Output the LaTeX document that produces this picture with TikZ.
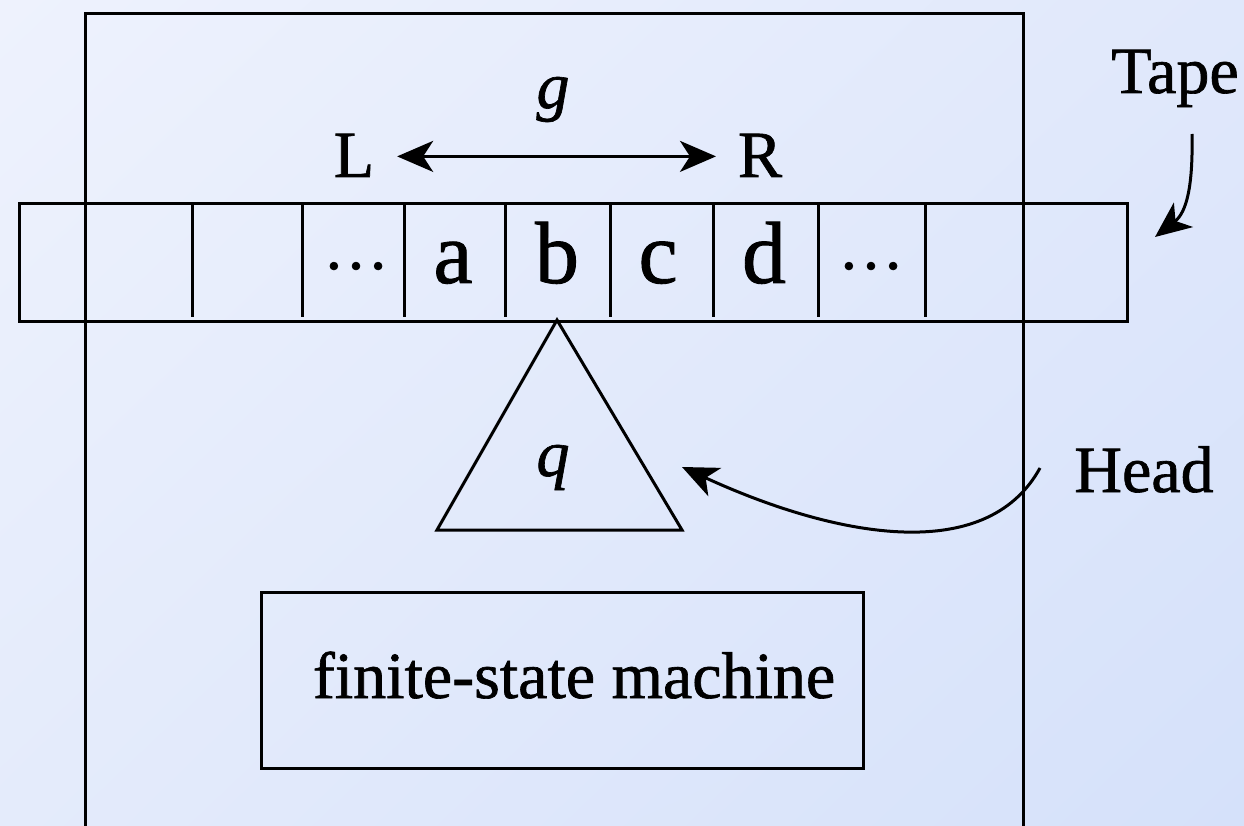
\documentclass[tikz,border=0pt]{standalone}
\usepackage{fontspec}
\setmainfont{Liberation Serif}
\newfontfamily\tms{Liberation Serif}[FakeBold=1]
\usetikzlibrary{arrows.meta,shadings}
\definecolor{bgTL}{HTML}{EEF2FD}
\definecolor{bgTR}{HTML}{E0E8FB}
\definecolor{bgBL}{HTML}{E4EBFB}
\definecolor{bgBR}{HTML}{D5E1FA}
\tikzset{
  ln/.style={line width=3pt, line join=miter},
  arr/.style={line width=3pt, -{Stealth[length=36pt,width=31pt,inset=10pt]}},
  arr2/.style={line width=2.8pt, {Stealth[length=36pt,width=31pt,inset=10pt]}-{Stealth[length=36pt,width=31pt,inset=10pt]}},
  lab/.style={inner sep=0pt, outer sep=0pt, anchor=base, font=\tms\fontsize{66}{70}\selectfont},
  big/.style={inner sep=0pt, outer sep=0pt, anchor=base, font=\tms\fontsize{88}{92}\selectfont},
}
\begin{document}
\begin{tikzpicture}[x=1pt,y=-1pt]
\useasboundingbox (0,0) rectangle (1244,826);
\clip (0,0) rectangle (1244,826);
\shade[upper left=bgTL, upper right=bgTR, lower left=bgBL, lower right=bgBR] (0,0) rectangle (1244,826);
% outer machine box
\draw[ln] (85,860) -- (85,14) -- (1023,14) -- (1023,860);
% tape
\draw[ln] (19,204) rectangle (1127,321);
\foreach \x in {192,302,404,505,610,713,818,925}
  \draw[ln] (\x,204) -- (\x,317);
% tape symbols
\node[lab] (d1) at (356,269) {…};
\node[big] (ca) at (453,283) {a};
\node[big] (cb) at (557,283) {b};
\node[big] (cc) at (658,283) {c};
\node[big] (cd) at (764,283) {d};
\node[lab] (d2) at (871,269) {…};
% movement
\node[lab] (g) at (553,108) {\itshape g};
\node[lab] (L) at (354,177) {L};
\node[lab] (R) at (760,177) {R};
\draw[arr2] ([xshift=23pt,yshift=-1pt]L.east) -- ([xshift=-22pt,yshift=-1pt]R.west);
% head
\draw[ln] (557,320) -- (682,530) -- (437,530) -- cycle;
\node[lab] (q) at (553,476) {\itshape q};
\node[lab] (head) at (1144,492) {Head};
\coordinate (hs) at (1040,468);
\coordinate (ht) at (682,467);
\draw[arr] (hs) .. controls (985,568) and (830,535) .. (ht);
% tape label
\node[lab] (tape) at (1175,93) {Tape};
\coordinate (ts) at (1192,134);
\coordinate (tt) at (1155,237);
\draw[arr] (ts) .. controls (1193,185) and (1187,212) .. (tt);
% finite-state machine
\node[draw, line width=3pt, minimum width=602pt, minimum height=176pt, inner sep=0pt] (fsm) at (562.5,680.5) {};
\node[lab] (fsmtext) at (574,698) {finite-state machine};
\end{tikzpicture}
\end{document}
